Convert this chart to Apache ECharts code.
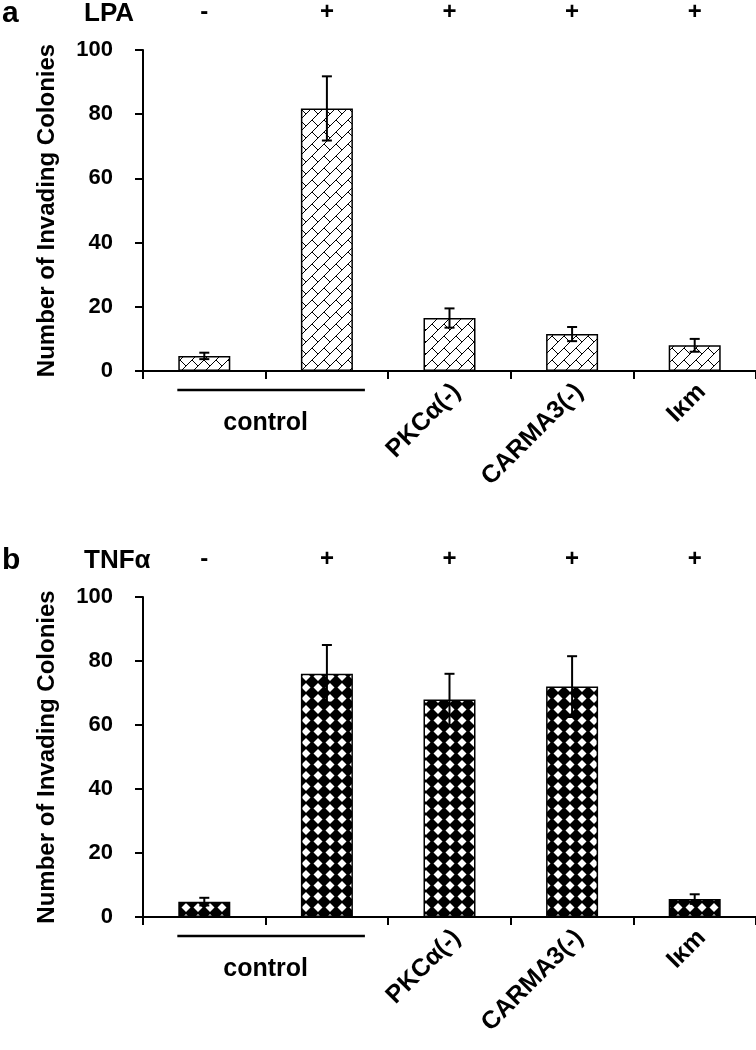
<!DOCTYPE html>
<html>
<head>
<meta charset="utf-8">
<script src="https://cdn.jsdelivr.net/npm/echarts@6/dist/echarts.min.js"></script>
<style>
  html, body { margin: 0; padding: 0; background: #fff; }
  #chart { width: 756px; height: 1050px; }
</style>
</head>
<body>
<div id="chart"></div>
<script>
// ---- data ----
const categories = ['control', 'control', 'PKCα(-)', 'CARMA3(-)', 'Iκm'];
const lpaTreatment = ['-', '+', '+', '+', '+'];
const tnfTreatment = ['-', '+', '+', '+', '+'];
const lpaMeans = [4.7, 81.8, 16.5, 11.5, 8.0];
const lpaErrors = [1.0, 10.0, 3.0, 2.2, 2.0];
const tnfMeans = [4.8, 76, 68, 72, 5.6];
const tnfErrors = [1.2, 9.0, 8.0, 9.5, 1.5];
const yMin = 0, yMax = 100, yStep = 20;
const yTitle = 'Number of Invading Colonies';
const groupLabel = 'control';
const panelLetters = ['a', 'b'];
const treatmentNames = ['LPA', 'TNFα'];

// ---- patterns ----
function hatchTile() {
  const s = 12;
  const c = document.createElement('canvas');
  c.width = s; c.height = s;
  const g = c.getContext('2d');
  g.fillStyle = '#fff'; g.fillRect(0, 0, s, s);
  g.strokeStyle = '#000'; g.lineWidth = 1;
  g.beginPath();
  g.moveTo(-1, s + 1); g.lineTo(s + 1, -1);
  g.moveTo(-2, 2); g.lineTo(2, -2);
  g.moveTo(s - 2, s + 2); g.lineTo(s + 2, s - 2);
  g.moveTo(0, 0); g.lineTo(s / 2, s / 2);
  g.stroke();
  return c;
}
function diamondTile() {
  const w = 12, h = 11;
  const c = document.createElement('canvas');
  c.width = w; c.height = h;
  const g = c.getContext('2d');
  g.fillStyle = '#000'; g.fillRect(0, 0, w, h);
  g.fillStyle = '#fff';
  g.beginPath();
  g.moveTo(6, 1); g.lineTo(10.5, 5.5); g.lineTo(6, 10); g.lineTo(1.5, 5.5);
  g.closePath(); g.fill();
  return c;
}

const FONT = '"Liberation Sans", Arial, sans-serif';
const txt = { fontFamily: FONT, fontWeight: 'bold', color: '#000' };

const grids = [
  { left: 143, top: 50, width: 613, height: 321 },
  { left: 143, top: 597, width: 613, height: 320 }
];

function xBottom(gi) {
  return {
    type: 'category', gridIndex: gi, position: 'bottom', data: categories,
    axisLine: { lineStyle: { color: '#000', width: 2 } },
    axisTick: { show: true, length: 8, lineStyle: { color: '#000', width: 2 } },
    axisLabel: Object.assign({}, txt, {
      fontSize: 25, rotate: 45, margin: 24, padding: [0, -10, 0, 0],
      formatter: (v, i) => (i < 2 ? '' : v)
    }),
    splitLine: { show: false }
  };
}
function xTop(gi, labels) {
  return {
    type: 'category', gridIndex: gi, position: 'top', data: labels,
    axisLine: { show: false }, axisTick: { show: false },
    axisLabel: Object.assign({}, txt, { fontSize: 24, margin: 26 }),
    splitLine: { show: false }
  };
}
function yAx(gi) {
  return {
    type: 'value', gridIndex: gi, min: yMin, max: yMax, interval: yStep,
    name: yTitle, nameLocation: 'middle', nameRotate: 90, nameGap: 84,
    nameTextStyle: Object.assign({}, txt, { fontSize: 24 }),
    axisLine: { show: true, lineStyle: { color: '#000', width: 2 } },
    axisTick: { show: true, length: 8, lineStyle: { color: '#000', width: 2 } },
    axisLabel: Object.assign({}, txt, { fontSize: 22, margin: 30 }),
    splitLine: { show: false }
  };
}

function barSeries(gi, xi, means, pattern) {
  return {
    type: 'bar', xAxisIndex: xi, yAxisIndex: gi, data: means,
    barWidth: 52, silent: true,
    itemStyle: { color: { image: pattern, repeat: 'repeat' }, borderColor: '#000', borderWidth: 1.5 }
  };
}
function errSeries(gi, xi, means, errs) {
  return {
    type: 'custom', xAxisIndex: xi, yAxisIndex: gi, silent: true, z: 10,
    data: means.map((m, i) => [i, m - errs[i], m + errs[i]]),
    renderItem: function (params, api) {
      const lo = api.coord([api.value(0), api.value(1)]);
      const hi = api.coord([api.value(0), api.value(2)]);
      const cw = 5;
      const st = { stroke: '#000', lineWidth: 2 };
      return {
        type: 'group', children: [
          { type: 'line', shape: { x1: hi[0], y1: hi[1], x2: lo[0], y2: lo[1] }, style: st },
          { type: 'line', shape: { x1: hi[0] - cw, y1: hi[1], x2: hi[0] + cw, y2: hi[1] }, style: st },
          { type: 'line', shape: { x1: lo[0] - cw, y1: lo[1], x2: lo[0] + cw, y2: lo[1] }, style: st }
        ]
      };
    }
  };
}

const chart = echarts.init(document.getElementById('chart'), null, { renderer: 'canvas' });
const hatch = hatchTile();
const diamonds = diamondTile();
chart.setOption({
  animation: false,
  backgroundColor: '#fff',
  grid: grids,
  xAxis: [xBottom(0), xTop(0, lpaTreatment), xBottom(1), xTop(1, tnfTreatment)],
  yAxis: [yAx(0), yAx(1)],
  series: [
    barSeries(0, 0, lpaMeans, hatch),
    errSeries(0, 0, lpaMeans, lpaErrors),
    barSeries(1, 2, tnfMeans, diamonds),
    errSeries(1, 2, tnfMeans, tnfErrors)
  ]
});

// decorations: panel letters, treatment names, group underline + label
const g = [];
[0, 1].forEach(gi => {
  const xi = gi === 0 ? 0 : 2;
  const p0 = chart.convertToPixel({ xAxisIndex: xi, yAxisIndex: gi }, [0, 0]);
  const p1 = chart.convertToPixel({ xAxisIndex: xi, yAxisIndex: gi }, [1, 0]);
  const band = p1[0] - p0[0];
  const topY = grids[gi].top - 36;
  g.push({ type: 'text', x: 2, y: topY, style: { text: panelLetters[gi], fontSize: 30, fontWeight: 'bold', fontFamily: FONT, fill: '#000', verticalAlign: 'middle' } });
  g.push({ type: 'text', x: 84, y: topY, style: { text: treatmentNames[gi], fontSize: 26, fontWeight: 'bold', fontFamily: FONT, fill: '#000', verticalAlign: 'middle' } });
  g.push({ type: 'line', shape: { x1: p0[0] - band * 0.22, y1: p0[1] + 19, x2: p1[0] + band * 0.31, y2: p0[1] + 19 }, style: { stroke: '#000', lineWidth: 2.5 } });
  g.push({ type: 'text', x: (p0[0] + p1[0]) / 2, y: p0[1] + 52, style: { text: groupLabel, fontSize: 25, fontWeight: 'bold', fontFamily: FONT, fill: '#000', align: 'center', verticalAlign: 'middle' } });
});
chart.setOption({ graphic: g });
</script>
</body>
</html>
